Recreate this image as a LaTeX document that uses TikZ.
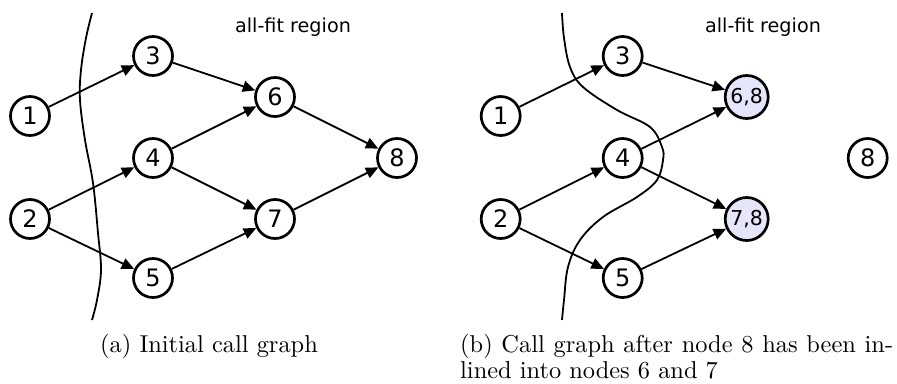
\documentclass[tikz,border=0pt]{standalone}
\usepackage{fontspec}
\newfontfamily\graphfont{DejaVu Sans}
\newfontfamily\capfont[Extension=.otf]{lmroman10-regular}
\usetikzlibrary{arrows.meta}
\definecolor{merged}{RGB}{230,230,250}
\tikzset{
  vertex/.style={circle, draw, line width=2.7pt, minimum size=39pt, inner sep=0pt,
    font=\graphfont\fontsize{24}{24}\selectfont},
  mergedvertex/.style={vertex, fill=merged, minimum size=43pt,
    font=\graphfont\fontsize{20.5}{20.5}\selectfont},
  call/.style={line width=1.8pt, -{Triangle[length=12.5pt,width=11pt]}},
  boundary/.style={line width=1.8pt},
  regionlabel/.style={font=\graphfont\fontsize{19.2}{19.2}\selectfont},
  captiontext/.style={font=\capfont\fontsize{24.4}{26}\selectfont, inner sep=0pt, anchor=base west}
}
\begin{document}
\begin{tikzpicture}[x=1pt, y=-1pt]
\useasboundingbox (0,0) rectangle (897,383);

% ---- (a) initial call graph ----
\draw[boundary] plot[smooth, tension=0.6] coordinates
  {(92,13) (86,38) (81,70) (80,100) (85,140) (93,183) (98,233) (101,270) (97,300) (92,320)};
\node[regionlabel] (fitA) at (293,27) {all-fit region};
\node[vertex] (a1) at (30,116) {1};
\node[vertex] (a2) at (30,219) {2};
\node[vertex] (a3) at (153,56) {3};
\node[vertex] (a4) at (153,158) {4};
\node[vertex] (a5) at (153,278) {5};
\node[vertex] (a6) at (275,97) {6};
\node[vertex] (a7) at (275,219) {7};
\node[vertex] (a8) at (397,158) {8};
\draw[call] (a1) -- (a3);
\draw[call] (a3) -- (a6);
\draw[call] (a2) -- (a4);
\draw[call] (a2) -- (a5);
\draw[call] (a4) -- (a6);
\draw[call] (a4) -- (a7);
\draw[call] (a5) -- (a7);
\draw[call] (a6) -- (a8);
\draw[call] (a7) -- (a8);
\node[captiontext] (capA) at (100,352) {(a) Initial call graph};

% ---- (b) after inlining node 8 ----
\draw[boundary] plot[smooth, tension=0.6] coordinates
  {(562,13) (564,38) (570,67) (583,87) (617,110) (650,127) (662,147) (663,160)
   (657,180) (637,197) (603,217) (580,240) (568,267) (564,300) (562,320)};
\node[regionlabel] (fitB) at (763,27) {all-fit region};
\node[vertex] (b1) at (500.7,116) {1};
\node[vertex] (b2) at (500.7,219) {2};
\node[vertex] (b3) at (622.7,56) {3};
\node[vertex] (b4) at (622.7,158) {4};
\node[vertex] (b5) at (622.7,278) {5};
\node[mergedvertex] (b68) at (746.7,97) {6,8};
\node[mergedvertex] (b78) at (746.7,219) {7,8};
\node[vertex] (b8) at (867.7,158) {8};
\draw[call] (b1) -- (b3);
\draw[call] (b3) -- (b68);
\draw[call] (b2) -- (b4);
\draw[call] (b2) -- (b5);
\draw[call] (b4) -- (b68);
\draw[call] (b4) -- (b78);
\draw[call] (b5) -- (b78);
\node[captiontext] (capB1) at (460,352) {\makebox[433pt][s]{(b) Call graph after node 8 has been in-}};
\node[captiontext] (capB2) at (460,378) {lined into nodes 6 and 7};
\end{tikzpicture}
\end{document}
